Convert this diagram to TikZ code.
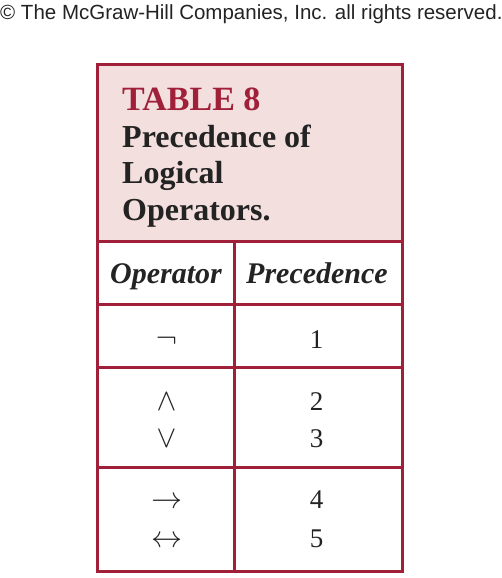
\documentclass[tikz,border=0pt]{standalone}
\usepackage{fontspec}
\usepackage{unicode-math}
\setmainfont{Liberation Serif}
\setmathfont{Latin Modern Math}
\newfontfamily\copyfont{Liberation Sans}
\usetikzlibrary{positioning}

\definecolor{tblred}{RGB}{160,32,58}
\definecolor{tblpink}{RGB}{243,223,221}
\definecolor{tbltext}{RGB}{35,35,35}

\begin{document}
\begin{tikzpicture}[x=1pt, y=-1pt,
    rule/.style={draw=tblred, line width=3pt},
    titletext/.style={anchor=base west, inner sep=0pt, text=tbltext, font=\bfseries\fontsize{32}{38}\selectfont},
    headtext/.style={anchor=base, inner sep=0pt, text=tbltext, font=\bfseries\itshape\fontsize{30}{36}\selectfont},
    celltext/.style={anchor=base, inner sep=0pt, text=tbltext, font=\fontsize{27}{32}\selectfont},
    optext/.style={anchor=base, inner sep=0pt, text=tbltext, font=\fontsize{31}{36}\selectfont}]
    \useasboundingbox (0,0) rectangle (502,578);

    % Copyright line
    \node[anchor=base west, inner sep=0pt, text=tbltext, font=\copyfont\fontsize{20.5}{24}\selectfont] (copy) at (0,20) {© The McGraw-Hill Companies, Inc. all rights reserved.};

    % Title block
    \fill[tblpink] (97,65) rectangle (402,241);
    \node[titletext, text=tblred, font=\bfseries\fontsize{34}{40}\selectfont] (tabno) at (122,110) {TABLE 8};
    \node[titletext] (title1) at (122,147) {Precedence of};
    \node[titletext] (title2) at (122,183) {Logical};
    \node[titletext] (title3) at (122,220) {Operators.};

    % Rules
    \draw[rule] (97,65) rectangle (402,571);
    \draw[rule] (97,241) -- (402,241);
    \draw[rule] (97,304) -- (402,304);
    \draw[rule] (97,367) -- (402,367);
    \draw[rule] (97,467) -- (402,467);
    \draw[rule] (234,241) -- (234,571);

    % Column heads
    \node[headtext] (hop) at (166,283) {Operator};
    \node[headtext] (hprec) at (317,283) {Precedence};

    % Operators and their precedence
    \node[optext] (negop) at (166.5,348) {$\neg$};
    \node[celltext] (negp) at (316.5,348) {1};
    \node[optext] (andop) at (166.5,410) {$\wedge$};
    \node[celltext] (andp) at (316.5,410) {2};
    \node[optext] (orop) at (166.5,447) {$\vee$};
    \node[celltext] (orp) at (316.5,447) {3};
    \node[optext] (impop) at (166.5,508) {$\rightarrow$};
    \node[celltext] (impp) at (316.5,508) {4};
    \node[optext] (biop) at (166.5,547) {$\leftrightarrow$};
    \node[celltext] (bip) at (316.5,547) {5};
\end{tikzpicture}
\end{document}
